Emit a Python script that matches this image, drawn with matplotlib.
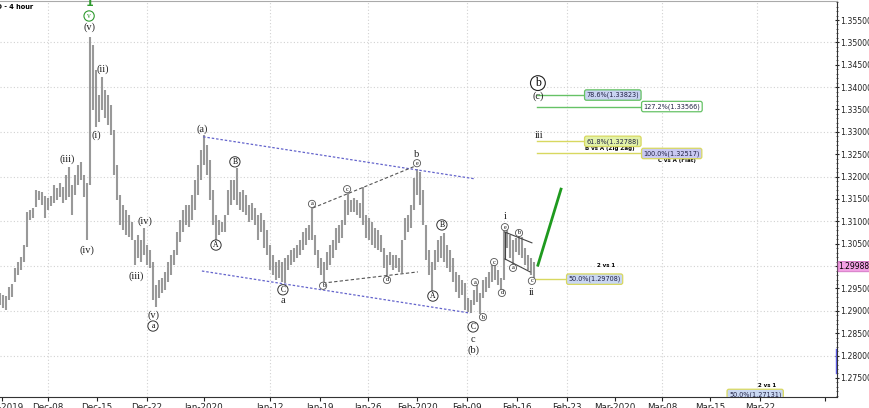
import numpy as np
import matplotlib.pyplot as plt
from matplotlib.ticker import MultipleLocator, FixedLocator
import matplotlib.transforms as mtransforms

# GBPUSD 4h bars (one bar per ~half day)
highs = [1.2940, 1.2935, 1.2933, 1.2953, 1.2960, 1.2996, 1.3009, 1.3020, 1.3047, 1.3121,
         1.3125, 1.3130, 1.3170, 1.3168, 1.3166, 1.3157, 1.3152, 1.3157, 1.3181, 1.3175,
         1.3186, 1.3177, 1.3204, 1.3221, 1.3181, 1.3204, 1.3226, 1.3233, 1.3204, 1.3186,
         1.3512, 1.3494, 1.3438, 1.3382, 1.3423, 1.3394, 1.3382, 1.3360, 1.3304, 1.3226,
         1.3159, 1.3137, 1.3125, 1.3114, 1.3099, 1.3058, 1.3069, 1.3058, 1.3085, 1.3047,
         1.3036, 1.3009, 1.2958, 1.2969, 1.2973, 1.2987, 1.3009, 1.3025, 1.3036, 1.3076,
         1.3103, 1.3125, 1.3137, 1.3137, 1.3159, 1.3192, 1.3226, 1.3259, 1.3293, 1.3271,
         1.3237, 1.3170, 1.3114, 1.3103, 1.3099, 1.3114, 1.3170, 1.3192, 1.3192, 1.3219,
         1.3166, 1.3170, 1.3159, 1.3137, 1.3141, 1.3130, 1.3114, 1.3119, 1.3103, 1.3081,
         1.3047, 1.3025, 1.3009, 1.3014, 1.3009, 1.3018, 1.3025, 1.3036, 1.3040, 1.3047,
         1.3058, 1.3076, 1.3085, 1.3092, 1.3130, 1.3069, 1.3036, 1.3018, 1.3009, 1.3031,
         1.3047, 1.3058, 1.3085, 1.3092, 1.3103, 1.3148, 1.3163, 1.3148, 1.3152, 1.3148,
         1.3141, 1.3177, 1.3114, 1.3108, 1.3099, 1.3085, 1.3081, 1.3069, 1.3040, 1.3025,
         1.3031, 1.3025, 1.3025, 1.3018, 1.3058, 1.3108, 1.3114, 1.3137, 1.3197, 1.3217,
         1.3210, 1.3170, 1.3092, 1.3036, 1.3009, 1.3036, 1.3058, 1.3067, 1.3074, 1.3047,
         1.3036, 1.3018, 1.2987, 1.2980, 1.2969, 1.2962, 1.2929, 1.2924, 1.2947, 1.2958,
         1.2940, 1.2969, 1.2976, 1.2987, 1.3002, 1.3009, 1.2991, 1.2973, 1.3081, 1.3087,
         1.3069, 1.3058, 1.3063, 1.3074, 1.3065, 1.3040, 1.3025, 1.3018, 1.3009]
lows = [1.2913, 1.2906, 1.2902, 1.2924, 1.2931, 1.2964, 1.2980, 1.2991, 1.3009, 1.3043,
        1.3103, 1.3108, 1.3132, 1.3148, 1.3137, 1.3108, 1.3125, 1.3134, 1.3141, 1.3148,
        1.3154, 1.3141, 1.3148, 1.3154, 1.3114, 1.3159, 1.3181, 1.3192, 1.3154, 1.3058,
        1.3181, 1.3349, 1.3311, 1.3322, 1.3349, 1.3331, 1.3315, 1.3293, 1.3204, 1.3148,
        1.3092, 1.3081, 1.3069, 1.3065, 1.3058, 1.3002, 1.3018, 1.3009, 1.3025, 1.3002,
        1.2996, 1.2924, 1.2909, 1.2929, 1.2940, 1.2947, 1.2964, 1.2980, 1.3002, 1.3025,
        1.3054, 1.3076, 1.3092, 1.3087, 1.3103, 1.3125, 1.3159, 1.3192, 1.3226, 1.3204,
        1.3148, 1.3092, 1.3058, 1.3069, 1.3076, 1.3076, 1.3114, 1.3137, 1.3148, 1.3137,
        1.3125, 1.3121, 1.3114, 1.3099, 1.3103, 1.3092, 1.3058, 1.3076, 1.3040, 1.3025,
        1.2991, 1.2980, 1.2969, 1.2973, 1.2964, 1.2962, 1.2991, 1.3002, 1.3009, 1.3018,
        1.3025, 1.3036, 1.3047, 1.3058, 1.3058, 1.3025, 1.2996, 1.2980, 1.2962, 1.2991,
        1.3002, 1.3018, 1.3036, 1.3052, 1.3063, 1.3092, 1.3114, 1.3121, 1.3121, 1.3114,
        1.3108, 1.3092, 1.3063, 1.3058, 1.3047, 1.3040, 1.3036, 1.3031, 1.2996, 1.2976,
        1.3002, 1.2991, 1.2996, 1.2987, 1.2985, 1.3058, 1.3076, 1.3085, 1.3125, 1.3159,
        1.3137, 1.3092, 1.3014, 1.2980, 1.2942, 1.2991, 1.3009, 1.3018, 1.3009, 1.2996,
        1.2987, 1.2964, 1.2942, 1.2929, 1.2935, 1.2902, 1.2897, 1.2895, 1.2913, 1.2920,
        1.2893, 1.2929, 1.2942, 1.2951, 1.2964, 1.2969, 1.2958, 1.2942, 1.2969, 1.3040,
        1.3018, 1.3002, 1.3031, 1.3025, 1.3018, 1.3002, 1.2991, 1.2980, 1.2973]
last_price = 1.29988

tick_labels = ["Dec-2019", "Dec-08", "Dec-15", "Dec-22", "Jan-2020", "Jan-12", "Jan-19",
               "Jan-26", "Feb-2020", "Feb-09", "Feb-16", "Feb-23", "Mar-2020", "Mar-08",
               "Mar-15", "Mar-22", ""]
tick_pos = [0.6, 16, 32.3, 49, 68, 90, 106.7, 122.7, 139, 155.7, 172.3, 189, 205, 220.7,
            236.7, 253.3, 275]
vgrid = [16, 49, 90, 122.7, 155.7, 189, 220.7, 252.3]

# fib targets: (label, price, line start, line end, box fill, edge colour)
fibs = [("78.6%(1.33823)", 1.33823, 179, 195, "#c9d3f2", "#66c266"),
        ("127.2%(1.33566)", 1.33566, 179, 214, "#ffffff", "#66c266"),
        ("61.8%(1.32788)", 1.32788, 179, 195, "#e2f2a8", "#d8d860"),
        ("100.0%(1.32517)", 1.32517, 179, 214, "#c9c9f2", "#d8d860"),
        ("50.0%(1.29708)", 1.29708, 177.7, 189, "#c9d7f2", "#d8d860")]

# wave labels (x, y, text)
plain = [(29.7, 1.3534, "(v)"), (34.3, 1.3441, "(ii)"), (32.0, 1.3293, "(i)"),
         (22.3, 1.3239, "(iii)"), (29.0, 1.3036, "(iv)"), (48.3, 1.3101, "(iv)"),
         (45.3, 1.2978, "(iii)"), (51.0, 1.2891, "(v)"), (67.3, 1.3306, "(a)"),
         (94.3, 1.2924, "a"), (139.0, 1.3250, "b"), (157.7, 1.2837, "c"),
         (157.7, 1.2812, "(b)"), (168.3, 1.3110, "i"), (177.3, 1.2940, "ii"),
         (179.3, 1.3380, "(c)"), (179.7, 1.3291, "iii")]
circ_big = [(51.0, 1.2866, "a"), (72.0, 1.3047, "A"), (78.3, 1.3233, "B"),
            (94.3, 1.2947, "C"), (144.3, 1.2933, "A"), (147.3, 1.3092, "B"),
            (157.7, 1.2864, "C")]
circ_small = [(104.0, 1.3139, "a"), (107.7, 1.2956, "b"), (115.7, 1.3172, "c"),
              (129.0, 1.2969, "d"), (139.0, 1.3230, "e"), (158.3, 1.2964, "a"),
              (161.0, 1.2886, "b"), (164.7, 1.3009, "c"), (167.3, 1.2940, "d"),
              (168.3, 1.3087, "e"), (171.0, 1.2996, "a"), (173.0, 1.3074, "b"),
              (177.3, 1.2967, "c")]

serif = "Liberation Serif"

fig = plt.figure(figsize=(8.69, 4.08), dpi=100)
ax = fig.add_axes([0, 11 / 408, 837 / 869, 396 / 408])
ax.set_xlim(0, 279)
ax.set_ylim(1.27074, 1.35925)

# grid
for p in np.arange(1.28, 1.355, 0.01):
    ax.axhline(p, color="#d2d2d2", lw=0.8, ls=(0, (1, 2)), zorder=0)
for g in vgrid:
    ax.axvline(g, color="#d2d2d2", lw=0.8, ls=(0, (1, 2)), zorder=0)

# bars
x = np.arange(len(highs))
ax.vlines(x, lows, highs, color="#999999", lw=1.5, zorder=2)

# trend channels
ax.plot([67.7, 158.3], [1.3289, 1.3195], color="#6464cc", lw=0.9, ls=(0, (2, 1.5)), zorder=3)
ax.plot([67.3, 156.7], [1.2989, 1.2895], color="#6464cc", lw=0.9, ls=(0, (2, 1.5)), zorder=3)
ax.plot([104.3, 139.3], [1.3130, 1.3226], color="#555555", lw=0.8, ls=(0, (3, 2)), zorder=3)
ax.plot([107.7, 139.3], [1.2962, 1.2987], color="#555555", lw=0.8, ls=(0, (3, 2)), zorder=3)
ax.plot([168.3, 177.3], [1.3076, 1.3052], color="#444444", lw=0.8, zorder=3)
ax.plot([168.3, 176.7], [1.3016, 1.2987], color="#444444", lw=0.8, zorder=3)
ax.plot([168.3, 168.3], [1.3076, 1.3016], color="#444444", lw=0.8, zorder=3)
ax.plot([179.3, 187.0], [1.3002, 1.3172], color="#1f9a1f", lw=2.0, zorder=3)

# fib projections
for lab, p, x0, x1, fc, ec in fibs:
    ax.plot([x0, x1], [p, p], color=ec, lw=1.0, zorder=3)
    ax.text(x1 + 0.5, p, lab, ha="left", va="center", fontsize=4.7, color="#222244",
            bbox=dict(boxstyle="round,pad=0.3", fc=fc, ec=ec, lw=0.9), zorder=4)
ax.text(203.3, 1.3262, "B vs A (Zig Zag)", ha="center", va="center", fontsize=4.0,
        weight="bold")
ax.text(225.7, 1.3236, "C vs A (Flat)", ha="center", va="center", fontsize=4.0,
        weight="bold")
ax.text(202, 1.3002, "2 vs 1", ha="center", va="center", fontsize=4.0, weight="bold")
ax.text(255.7, 1.2734, "2 vs 1", ha="center", va="center", fontsize=4.0, weight="bold")
ax.text(243, 1.27131, "50.0%(1.27131)", ha="left", va="center", fontsize=4.7,
        color="#222244", clip_on=True,
        bbox=dict(boxstyle="round,pad=0.3", fc="#c9d7f2", ec="#d8d860", lw=0.9))

# labels
for lx, ly, s in plain:
    ax.text(lx, ly, s, ha="center", va="center", fontsize=7.5, family=serif,
            color="#222222", zorder=5)
for lx, ly, s in circ_big:
    ax.text(lx, ly, s, ha="center", va="center", fontsize=5.5, family=serif, zorder=5,
            bbox=dict(boxstyle="circle,pad=0.15", fc="white", ec="#333333", lw=0.7))
for lx, ly, s in circ_small:
    ax.text(lx, ly, s, ha="center", va="center", fontsize=4.4, family=serif, zorder=5,
            bbox=dict(boxstyle="circle,pad=0.18", fc="white", ec="#555555", lw=0.6))
ax.text(179.3, 1.3409, "b", ha="center", va="center", fontsize=8.5, family=serif, zorder=5,
        bbox=dict(boxstyle="circle,pad=0.12", fc="white", ec="#222222", lw=0.8))
ax.text(29.7, 1.3559, "v", ha="center", va="center", fontsize=5.5, family=serif,
        color="#2e9a2e", zorder=5,
        bbox=dict(boxstyle="circle,pad=0.15", fc="white", ec="#2e9a2e", lw=0.8))
ax.text(29.7, 1.3589, "1", ha="center", va="center", fontsize=8, weight="bold",
        color="#2e9a2e", zorder=5)

# last price tag and right-edge marker
trans = mtransforms.blended_transform_factory(ax.transAxes, ax.transData)
ax.text(1.002, last_price, "1.29988", transform=trans, ha="left", va="center",
        fontsize=5.5, bbox=dict(boxstyle="round,pad=0.08", fc="#f2a0e4", ec="#d070c0",
                                lw=0.6))
ax.plot([278.7, 278.7], [1.2814, 1.2762], color="#5a5ae0", lw=1.0, zorder=3)


def price_fmt(v, pos):
    # the 1.30000 label sits under the last-price tag
    if abs(v - 1.30) < 1e-6:
        return ""
    return f"{v:.5f}"


# axes styling
ax.yaxis.tick_right()
ax.yaxis.set_major_locator(MultipleLocator(0.005))
ax.yaxis.set_minor_locator(MultipleLocator(0.001))
ax.yaxis.set_major_formatter(price_fmt)
ax.tick_params(axis="y", which="major", labelsize=5.6, length=3, pad=1,
               direction="inout", colors="#222222")
ax.tick_params(axis="y", which="minor", length=2, direction="inout", color="#444444")
ax.xaxis.set_major_locator(FixedLocator(tick_pos))
ax.set_xticklabels(tick_labels)
ax.tick_params(axis="x", labelsize=6.3, length=3, pad=1.5, colors="#222222")
ax.spines["left"].set_visible(False)
ax.spines["top"].set_color("#aaaaaa")
ax.spines["right"].set_color("#333333")
ax.spines["bottom"].set_color("#333333")

fig.text(33 / 869, 1 - 7 / 408, "GBPUSD - 4 hour", ha="right", va="center",
         fontsize=4.8, weight="bold", zorder=10)

fig.savefig("out.png", dpi=100)
